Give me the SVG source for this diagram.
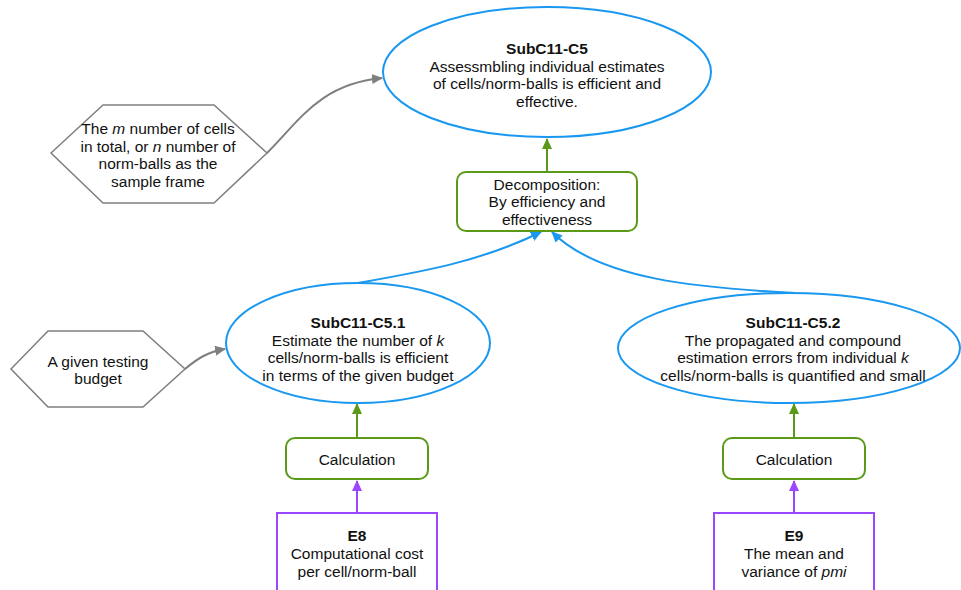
<svg xmlns="http://www.w3.org/2000/svg" width="961" height="590" viewBox="0 0 961 590">
  <style>
    text { font-family: "Liberation Sans", Arial, Helvetica, sans-serif; font-size: 15.5px; fill: #111; text-anchor: middle; }
    .b { font-weight: bold; }
    .i { font-style: italic; }
    .goal { fill: #fff; stroke: #1a98f0; stroke-width: 2; }
    .strat { fill: #fff; stroke: #5b9a19; stroke-width: 2; }
    .ctx { fill: #fff; stroke: #7f7f7f; stroke-width: 1.5; }
    .ev { fill: #fff; stroke: #9b46ff; stroke-width: 2; }
    .c-blue { fill: none; stroke: #1a98f0; stroke-width: 2; }
    .c-green { fill: none; stroke: #5b9a19; stroke-width: 2; }
    .c-purple { fill: none; stroke: #9b46ff; stroke-width: 2; }
    .c-gray { fill: none; stroke: #7f7f7f; stroke-width: 2; }
  </style>
  <defs>
    <marker id="ah-blue" markerUnits="userSpaceOnUse" markerWidth="12" markerHeight="10" refX="10" refY="5" orient="auto">
      <path d="M0,0 L11,5 L0,10 z" fill="#1a98f0"/>
    </marker>
    <marker id="ah-green" markerUnits="userSpaceOnUse" markerWidth="12" markerHeight="10" refX="10" refY="5" orient="auto">
      <path d="M0,0 L11,5 L0,10 z" fill="#5b9a19"/>
    </marker>
    <marker id="ah-purple" markerUnits="userSpaceOnUse" markerWidth="12" markerHeight="10" refX="10" refY="5" orient="auto">
      <path d="M0,0 L11,5 L0,10 z" fill="#9b46ff"/>
    </marker>
    <marker id="ah-gray" markerUnits="userSpaceOnUse" markerWidth="12" markerHeight="10" refX="10" refY="5" orient="auto">
      <path d="M0,0 L11,5 L0,10 z" fill="#7f7f7f"/>
    </marker>
  </defs>

  <!-- connectors -->
  <g id="connectors">
    <path class="c-gray" d="M267,153 C300,120 320,84 382,78" marker-end="url(#ah-gray)"/>
    <path class="c-green" d="M547,172 L547,139" marker-end="url(#ah-green)"/>
    <path class="c-blue" d="M358,283 C420,272 480,262 541,232" marker-end="url(#ah-blue)"/>
    <path class="c-blue" d="M795,293 C700,288 600,280 552,232" marker-end="url(#ah-blue)"/>
    <path class="c-gray" d="M185,369 C198,358 208,352 225,349" marker-end="url(#ah-gray)"/>
    <path class="c-green" d="M357,438 L357,404" marker-end="url(#ah-green)"/>
    <path class="c-green" d="M794,438 L794,404" marker-end="url(#ah-green)"/>
    <path class="c-purple" d="M357,513 L357,481" marker-end="url(#ah-purple)"/>
    <path class="c-purple" d="M794,513 L794,481" marker-end="url(#ah-purple)"/>
  </g>

  <!-- goal SubC11-C5 -->
  <g id="subc11-c5">
    <ellipse class="goal" cx="547" cy="72" rx="164" ry="65"/>
    <text x="547" y="54" class="b">SubC11-C5</text>
    <text x="547" y="72">Assessmbling individual estimates</text>
    <text x="547" y="89">of cells/norm-balls is efficient and</text>
    <text x="547" y="107">effective.</text>
  </g>

  <!-- context: sample frame -->
  <g id="ctx-sample-frame">
    <polygon class="ctx" points="51,153 103,105 214,105 267,153 214,203 103,203"/>
    <text x="158" y="134">The <tspan class="i">m</tspan> number of cells</text>
    <text x="158" y="152">in total, or <tspan class="i">n</tspan> number of</text>
    <text x="158" y="169">norm-balls as the</text>
    <text x="158" y="187">sample frame</text>
  </g>

  <!-- strategy: decomposition -->
  <g id="decomposition">
    <rect class="strat" x="457" y="172" width="180" height="59" rx="9"/>
    <text x="547" y="190">Decomposition:</text>
    <text x="547" y="207">By efficiency and</text>
    <text x="547" y="225">effectiveness</text>
  </g>

  <!-- goal SubC11-C5.1 -->
  <g id="subc11-c5-1">
    <ellipse class="goal" cx="358" cy="343" rx="132" ry="60"/>
    <text x="358" y="328" class="b">SubC11-C5.1</text>
    <text x="358" y="346">Estimate the number of <tspan class="i">k</tspan></text>
    <text x="358" y="363">cells/norm-balls is efficient</text>
    <text x="358" y="381">in terms of the given budget</text>
  </g>

  <!-- context: testing budget -->
  <g id="ctx-budget">
    <polygon class="ctx" points="11,369 48,331 143,331 185,369 143,407 48,407"/>
    <text x="98" y="367">A given testing</text>
    <text x="98" y="384">budget</text>
  </g>

  <!-- goal SubC11-C5.2 -->
  <g id="subc11-c5-2">
    <ellipse class="goal" cx="789" cy="348" rx="171" ry="55"/>
    <text x="793" y="328" class="b">SubC11-C5.2</text>
    <text x="793" y="346">The propagated and compound</text>
    <text x="793" y="363">estimation errors from individual <tspan class="i">k</tspan></text>
    <text x="793" y="381">cells/norm-balls is quantified and small</text>
  </g>

  <!-- strategies: calculation -->
  <g id="calc-1">
    <rect class="strat" x="286" y="438" width="142" height="41" rx="9"/>
    <text x="357" y="465">Calculation</text>
  </g>
  <g id="calc-2">
    <rect class="strat" x="723" y="438" width="142" height="41" rx="9"/>
    <text x="794" y="465">Calculation</text>
  </g>

  <!-- evidence -->
  <g id="e8">
    <rect class="ev" x="277" y="513" width="160" height="90"/>
    <text x="357" y="541" class="b">E8</text>
    <text x="357" y="559">Computational cost</text>
    <text x="357" y="577">per cell/norm-ball</text>
  </g>
  <g id="e9">
    <rect class="ev" x="714" y="513" width="160" height="90"/>
    <text x="794" y="541" class="b">E9</text>
    <text x="794" y="559">The mean and</text>
    <text x="794" y="577">variance of <tspan class="i">pmi</tspan></text>
  </g>
</svg>
